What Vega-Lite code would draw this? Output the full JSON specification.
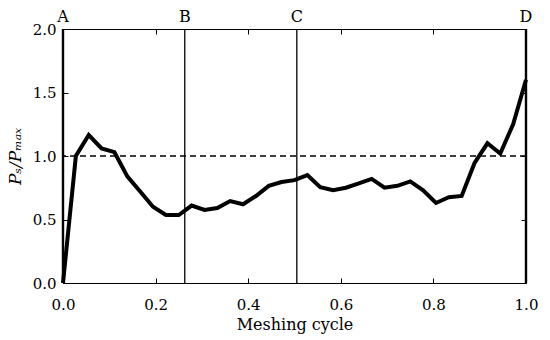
{
  "$schema": "https://vega.github.io/schema/vega-lite/v6.json",
  "width": 463,
  "height": 254,
  "autosize": {"type": "none"},
  "padding": {"left": 63, "top": 29, "right": 24, "bottom": 57},
  "background": "white",
  "config": {
    "view": {"stroke": "black", "strokeWidth": 1},
    "font": "DejaVu Serif",
    "axis": {
      "grid": false,
      "domainColor": "black",
      "tickColor": "black",
      "tickSize": -5,
      "labelFlush": false,
      "labelFont": "DejaVu Serif",
      "labelFontSize": 15,
      "labelColor": "black",
      "titleFont": "DejaVu Serif",
      "titleFontSize": 16,
      "titleFontWeight": "normal",
      "titleColor": "black"
    }
  },
  "datasets": {
    "curve": [
      {"t": 0.0, "p": 0.0},
      {"t": 0.0278, "p": 1.0},
      {"t": 0.0556, "p": 1.165},
      {"t": 0.0833, "p": 1.06},
      {"t": 0.1111, "p": 1.03},
      {"t": 0.1389, "p": 0.84},
      {"t": 0.1667, "p": 0.72},
      {"t": 0.1944, "p": 0.6},
      {"t": 0.2222, "p": 0.535},
      {"t": 0.25, "p": 0.535},
      {"t": 0.2778, "p": 0.61},
      {"t": 0.3056, "p": 0.575},
      {"t": 0.3333, "p": 0.59},
      {"t": 0.3611, "p": 0.645},
      {"t": 0.3889, "p": 0.62},
      {"t": 0.4167, "p": 0.685},
      {"t": 0.4444, "p": 0.765},
      {"t": 0.4722, "p": 0.795},
      {"t": 0.5, "p": 0.81},
      {"t": 0.5278, "p": 0.85},
      {"t": 0.5556, "p": 0.755},
      {"t": 0.5833, "p": 0.73},
      {"t": 0.6111, "p": 0.75},
      {"t": 0.6389, "p": 0.785},
      {"t": 0.6667, "p": 0.82},
      {"t": 0.6944, "p": 0.75},
      {"t": 0.7222, "p": 0.765},
      {"t": 0.75, "p": 0.8},
      {"t": 0.7778, "p": 0.73},
      {"t": 0.8056, "p": 0.63},
      {"t": 0.8333, "p": 0.675},
      {"t": 0.8611, "p": 0.685},
      {"t": 0.8889, "p": 0.945},
      {"t": 0.9167, "p": 1.1},
      {"t": 0.9444, "p": 1.02},
      {"t": 0.9722, "p": 1.25},
      {"t": 1.0, "p": 1.6}
    ],
    "marks": [
      {"t": 0.0, "label": "A", "top": 2.0},
      {"t": 0.263, "label": "B", "top": 2.0},
      {"t": 0.505, "label": "C", "top": 2.0},
      {"t": 1.0, "label": "D", "top": 2.0}
    ],
    "ref": [{"p": 1.0}]
  },
  "resolve": {"axis": {"x": "independent", "y": "independent"}},
  "layer": [
    {
      "data": {"name": "ref"},
      "mark": {"type": "rule", "color": "black", "strokeWidth": 1.3, "strokeDash": [6, 4]},
      "encoding": {
        "y": {"field": "p", "type": "quantitative", "scale": {"domain": [0, 2]},
          "axis": {"orient": "right", "labels": false, "title": null, "values": [0.5, 1.0, 1.5], "domain": false}}
      }
    },
    {
      "data": {"name": "marks"},
      "mark": {"type": "rule", "color": "black"},
      "encoding": {
        "x": {"field": "t", "type": "quantitative", "scale": {"domain": [0, 1]},
          "axis": {"orient": "top", "labels": false, "title": null, "values": [0.2, 0.4, 0.6, 0.8], "domain": false}},
        "strokeWidth": {"condition": {"test": "datum.t == 0 || datum.t == 1", "value": 2.4}, "value": 1.3}
      }
    },
    {
      "data": {"name": "marks"},
      "mark": {"type": "text", "fontSize": 16, "baseline": "bottom", "dy": -4, "color": "black", "font": "DejaVu Serif"},
      "encoding": {
        "x": {"field": "t", "type": "quantitative", "axis": null},
        "y": {"field": "top", "type": "quantitative", "axis": null},
        "text": {"field": "label"}
      }
    },
    {
      "data": {"name": "curve"},
      "mark": {"type": "line", "color": "black", "strokeWidth": 4, "strokeJoin": "miter", "clip": false},
      "encoding": {
        "x": {"field": "t", "type": "quantitative", "scale": {"domain": [0, 1]},
          "axis": {"orient": "bottom", "title": "Meshing cycle", "values": [0, 0.2, 0.4, 0.6, 0.8, 1.0], "format": ".1f", "labelPadding": 19, "titlePadding": 4}},
        "y": {"field": "p", "type": "quantitative", "scale": {"domain": [0, 2]},
          "axis": {"orient": "left", "title": "Pₛ/Pₘₐₓ", "titleColor": "black", "titleFontStyle": "italic", "titleFontSize": 17, "values": [0, 0.5, 1.0, 1.5, 2.0], "format": ".1f", "labelPadding": 12, "titlePadding": 8}}
      }
    }
  ]
}
